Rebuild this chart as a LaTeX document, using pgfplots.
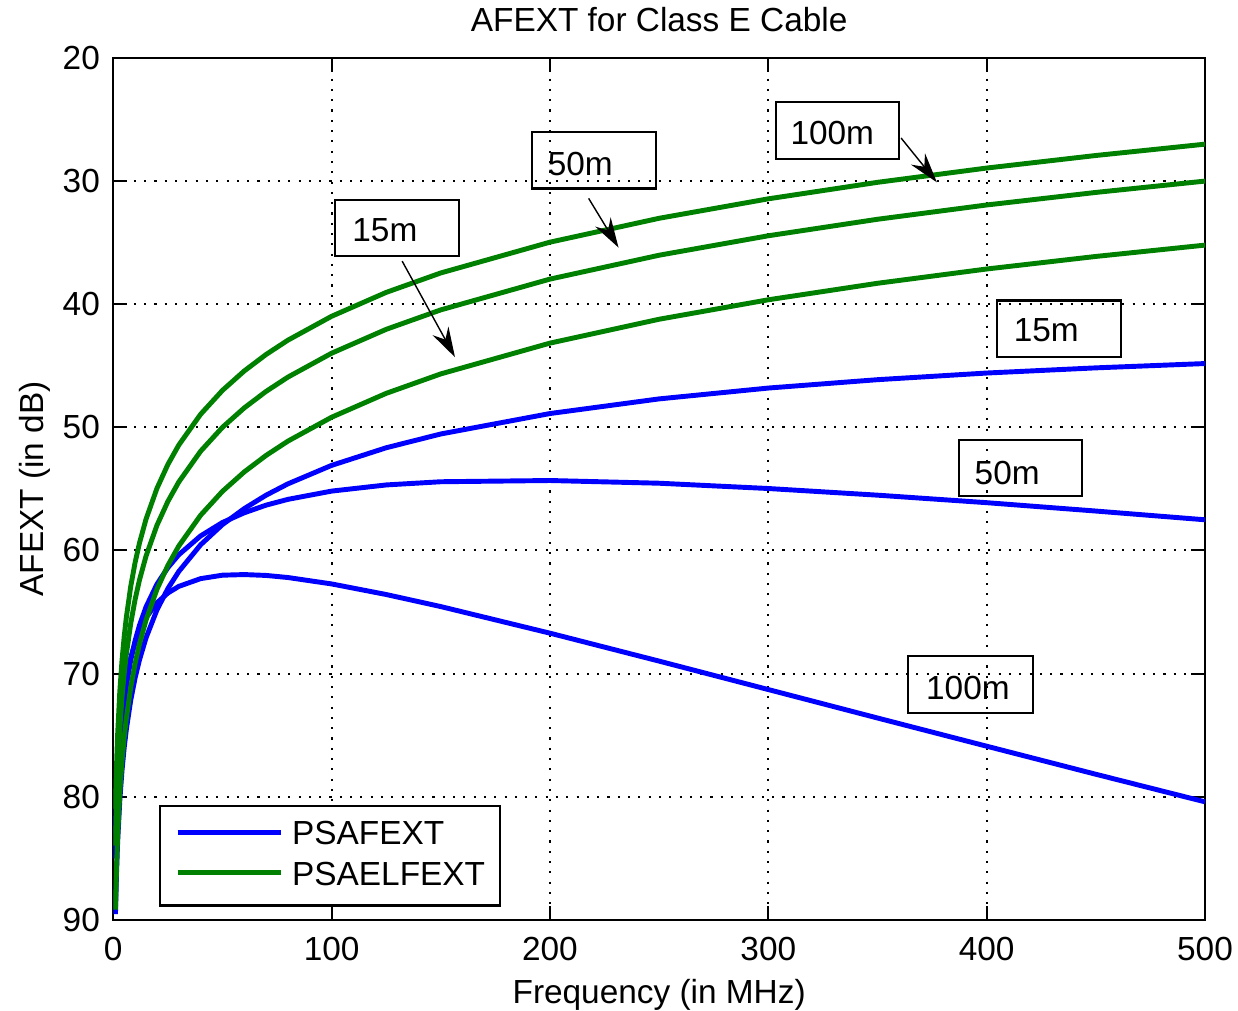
\documentclass[border=0pt]{standalone}
\usepackage{fontspec}
\setmainfont{Liberation Sans}
\usepackage{pgfplots}
\pgfplotsset{compat=1.18}
\usepackage{pgfplotstable}
\usetikzlibrary{arrows.meta}
\definecolor{mblue}{RGB}{0,0,255}
\definecolor{mgreen}{RGB}{0,128,0}

\pgfplotstableread{
f g100 g50 g15 b100 b50 b15
1 80.98 83.98 89.18 83.00 85.02 89.54
1.5 77.46 80.46 85.66 79.94 81.74 86.11
2 74.96 77.96 83.16 77.82 79.43 83.67
3 71.44 74.44 79.64 74.96 76.25 80.27
4 68.94 71.94 77.14 73.01 74.04 77.87
5 67.00 70.00 75.20 71.56 72.35 76.02
6 65.42 68.42 73.62 70.42 71.00 74.52
8 62.92 65.92 71.12 68.72 68.91 72.16
10 60.98 63.98 69.18 67.48 67.33 70.35
12 59.40 62.40 67.60 66.54 66.08 68.89
15 57.46 60.46 65.66 65.47 64.59 67.10
20 54.96 57.96 63.16 64.25 62.74 64.83
25 53.02 56.02 61.22 63.46 61.40 63.10
30 51.44 54.44 59.64 62.92 60.35 61.71
40 48.94 51.94 57.14 62.29 58.82 59.54
50 47.00 50.00 55.20 62.01 57.73 57.90
60 45.42 48.42 53.62 61.96 56.94 56.60
70 44.08 47.08 52.28 62.03 56.32 55.51
80 42.92 45.92 51.12 62.20 55.85 54.59
100 40.98 43.98 49.18 62.72 55.18 53.09
125 39.04 42.04 47.24 63.58 54.68 51.66
150 37.46 40.46 45.66 64.56 54.42 50.54
200 34.96 37.96 43.16 66.72 54.32 48.88
250 33.02 36.02 41.22 68.99 54.54 47.69
300 31.44 34.44 39.64 71.30 54.97 46.81
350 30.10 33.10 38.30 73.61 55.51 46.13
400 28.94 31.94 37.14 75.90 56.12 45.59
450 27.92 30.92 36.12 78.18 56.80 45.17
500 27.00 30.00 35.20 80.42 57.51 44.82
}\data

\begin{document}
\begin{tikzpicture}[font=\fontsize{9.5}{11.4}\selectfont]
\begin{axis}[
  scale only axis, width=109.2mm, height=86.2mm,
  xmin=0, xmax=500, ymin=20, ymax=90, y dir=reverse,
  xtick={0,100,...,500}, ytick={20,30,...,90},
  grid=major,
  major grid style={black, line width=0.6pt, dash pattern=on 0.6pt off 2.33pt},
  tick align=inside, major tick length=1.4mm,
  xtick pos=both, ytick pos=both,
  axis line style={line width=0.6pt},
  every tick/.style={black, line width=0.6pt},
  /pgf/number format/assume math mode=true,
  xticklabel style={yshift=-0.5mm},
  yticklabel style={xshift=-0.1mm},
  every axis title shift=0pt,
  title={AFEXT for Class E Cable},
  title style={at={(axis description cs:0.5,1.0305)}, anchor=base},
  xlabel={Frequency (in MHz)},
  xlabel style={at={(axis description cs:0.5,-0.0974)}, anchor=base},
  ylabel={AFEXT (in dB)},
  ylabel style={at={(axis description cs:-0.0635,0.5)}, anchor=base},
  legend cell align=left,
  legend style={at={(axis description cs:0.0421,0.0154)}, anchor=south west,
    draw=black, line width=0.6pt, inner xsep=1.5mm, inner ysep=1.5mm,
    row sep=1.2mm, nodes={inner sep=0pt}, column sep=0.9mm},
  legend image code/.code={\draw[#1] (0mm,0.35mm) -- (10.3mm,0.35mm);},
]
\addplot[mblue, line width=1.4pt] table[x=f,y=b100]{\data};
\addlegendentry{PSAFEXT}
\addplot[mgreen, line width=1.4pt] table[x=f,y=g100]{\data};
\addlegendentry{PSAELFEXT}
\addplot[mblue, line width=1.4pt, forget plot] table[x=f,y=b50]{\data};
\addplot[mblue, line width=1.4pt, forget plot] table[x=f,y=b15]{\data};
\addplot[mgreen, line width=1.4pt, forget plot] table[x=f,y=g50]{\data};
\addplot[mgreen, line width=1.4pt, forget plot] table[x=f,y=g15]{\data};

% annotations (green curves)
\draw[line width=0.6pt] (axis cs:303.7,23.6) rectangle (axis cs:359.7,28.2);
\node[inner sep=0pt] at (axis cs:329.3,26.1) {100m};
\draw[line width=0.4pt, -{Stealth[length=3mm,width=1.8mm,inset=1mm]}] (axis cs:360.8,26.5) -- (axis cs:377.2,30.1);

\draw[line width=0.6pt] (axis cs:191.9,26.0) rectangle (axis cs:248.7,30.6);
\node[inner sep=0pt] at (axis cs:213.9,28.6) {50m};
\draw[line width=0.4pt, -{Stealth[length=3mm,width=1.8mm,inset=1mm]}] (axis cs:217.7,31.4) -- (axis cs:231.4,35.4);

\draw[line width=0.6pt] (axis cs:101.5,31.5) rectangle (axis cs:158.3,36.1);
\node[inner sep=0pt] at (axis cs:124.4,34.0) {15m};
\draw[line width=0.4pt, -{Stealth[length=3mm,width=1.8mm,inset=1mm]}] (axis cs:132.3,36.5) -- (axis cs:156.5,44.3);

% annotations (blue curves)
\draw[line width=0.6pt] (axis cs:404.6,39.7) rectangle (axis cs:461.5,44.3);
\node[inner sep=0pt] at (axis cs:427.3,42.1) {15m};
\draw[line width=0.6pt] (axis cs:387.4,51.0) rectangle (axis cs:443.6,55.6);
\node[inner sep=0pt] at (axis cs:409.4,53.7) {50m};
\draw[line width=0.6pt] (axis cs:364.1,68.6) rectangle (axis cs:421.1,73.2);
\node[inner sep=0pt] at (axis cs:391.4,71.2) {100m};
\end{axis}
\pgfresetboundingbox
\useasboundingbox ([xshift=-11.33mm,yshift=-9.1mm]current axis.south west) rectangle ([xshift=3.3mm,yshift=5.8mm]current axis.north east);
\end{tikzpicture}
\end{document}
